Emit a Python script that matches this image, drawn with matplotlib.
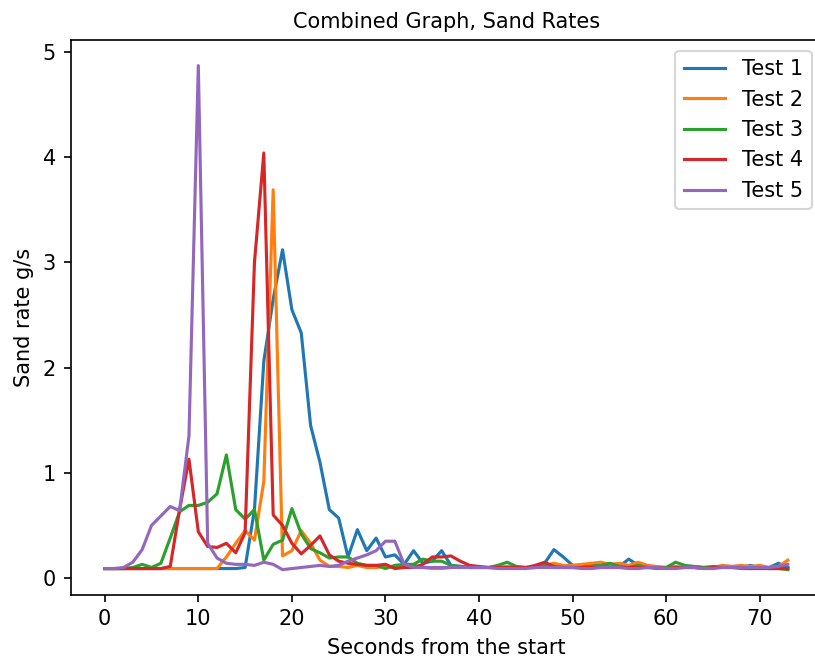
import matplotlib
matplotlib.use("Agg")
import matplotlib.pyplot as plt

seconds = list(range(74))

test1 = [0.09, 0.09, 0.09, 0.09, 0.09, 0.09, 0.09, 0.09, 0.09, 0.09,
         0.09, 0.09, 0.09, 0.09, 0.09, 0.10, 0.65, 2.06, 2.65, 3.12,
         2.55, 2.33, 1.45, 1.10, 0.65, 0.57, 0.20, 0.46, 0.26, 0.38,
         0.20, 0.22, 0.13, 0.26, 0.14, 0.16, 0.26, 0.12, 0.11, 0.10,
         0.10, 0.10, 0.10, 0.10, 0.10, 0.10, 0.10, 0.14, 0.27, 0.20,
         0.12, 0.12, 0.12, 0.12, 0.12, 0.11, 0.18, 0.12, 0.11, 0.10,
         0.10, 0.10, 0.10, 0.10, 0.10, 0.10, 0.11, 0.11, 0.10, 0.12,
         0.10, 0.10, 0.14, 0.10]

test2 = [0.09, 0.09, 0.09, 0.09, 0.09, 0.09, 0.09, 0.09, 0.09, 0.09,
         0.09, 0.09, 0.09, 0.20, 0.33, 0.45, 0.36, 0.92, 3.69, 0.21,
         0.26, 0.45, 0.33, 0.17, 0.11, 0.11, 0.10, 0.12, 0.10, 0.10,
         0.11, 0.10, 0.10, 0.12, 0.10, 0.09, 0.09, 0.10, 0.11, 0.10,
         0.10, 0.10, 0.10, 0.11, 0.10, 0.10, 0.10, 0.12, 0.14, 0.12,
         0.12, 0.13, 0.14, 0.15, 0.13, 0.14, 0.12, 0.15, 0.12, 0.11,
         0.10, 0.11, 0.10, 0.11, 0.10, 0.10, 0.12, 0.11, 0.12, 0.11,
         0.12, 0.10, 0.11, 0.17]

test3 = [0.09, 0.09, 0.09, 0.10, 0.13, 0.10, 0.14, 0.38, 0.63, 0.69,
         0.69, 0.72, 0.80, 1.17, 0.65, 0.56, 0.65, 0.17, 0.32, 0.36,
         0.66, 0.42, 0.28, 0.24, 0.19, 0.20, 0.20, 0.14, 0.12, 0.12,
         0.09, 0.12, 0.13, 0.13, 0.18, 0.16, 0.16, 0.12, 0.11, 0.10,
         0.10, 0.10, 0.12, 0.15, 0.11, 0.10, 0.10, 0.12, 0.10, 0.10,
         0.10, 0.10, 0.11, 0.12, 0.14, 0.11, 0.10, 0.12, 0.10, 0.09,
         0.10, 0.15, 0.12, 0.11, 0.10, 0.11, 0.10, 0.10, 0.09, 0.09,
         0.10, 0.09, 0.09, 0.08]

test4 = [0.09, 0.09, 0.09, 0.09, 0.09, 0.09, 0.09, 0.11, 0.65, 1.13,
         0.44, 0.30, 0.29, 0.33, 0.24, 0.43, 3.00, 4.04, 0.60, 0.50,
         0.33, 0.23, 0.31, 0.40, 0.22, 0.16, 0.14, 0.13, 0.12, 0.12,
         0.13, 0.09, 0.10, 0.10, 0.13, 0.20, 0.20, 0.21, 0.16, 0.12,
         0.11, 0.10, 0.10, 0.10, 0.10, 0.10, 0.12, 0.15, 0.11, 0.10,
         0.10, 0.10, 0.10, 0.10, 0.10, 0.10, 0.10, 0.10, 0.10, 0.10,
         0.09, 0.10, 0.10, 0.10, 0.09, 0.10, 0.10, 0.10, 0.10, 0.09,
         0.09, 0.09, 0.09, 0.09]

test5 = [0.09, 0.09, 0.10, 0.15, 0.27, 0.50, 0.59, 0.68, 0.64, 1.35,
         4.87, 0.33, 0.19, 0.14, 0.13, 0.13, 0.12, 0.15, 0.13, 0.08,
         0.09, 0.10, 0.11, 0.12, 0.11, 0.12, 0.16, 0.19, 0.22, 0.26,
         0.35, 0.35, 0.13, 0.10, 0.10, 0.10, 0.10, 0.10, 0.10, 0.10,
         0.10, 0.10, 0.09, 0.09, 0.09, 0.09, 0.10, 0.10, 0.10, 0.10,
         0.10, 0.09, 0.09, 0.10, 0.10, 0.10, 0.09, 0.09, 0.10, 0.10,
         0.09, 0.09, 0.10, 0.10, 0.09, 0.09, 0.10, 0.10, 0.10, 0.10,
         0.10, 0.10, 0.11, 0.13]

series = [test1, test2, test3, test4, test5]
labels = ["Test 1", "Test 2", "Test 3", "Test 4", "Test 5"]

DPI = 150
fig = plt.figure(figsize=(815 / DPI, 666 / DPI), dpi=DPI)
ax = fig.add_axes([0.0866, 0.1069, 0.922, 0.8324])

for vals, lab in zip(series, labels):
    ax.plot(seconds, vals, label=lab)

ax.set_title("Combined Graph, Sand Rates", fontsize=10)
ax.set_xlabel("Seconds from the start")
ax.set_ylabel("Sand rate g/s")
ax.legend(loc="upper right")

fig.savefig("out.png", dpi=DPI)
